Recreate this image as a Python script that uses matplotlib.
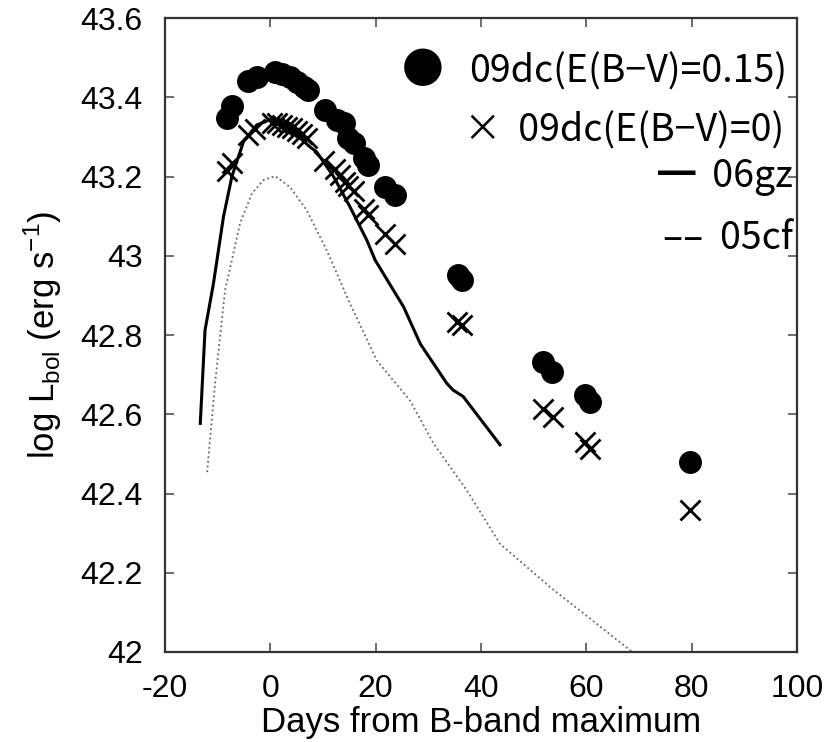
import matplotlib
matplotlib.use("Agg")
import matplotlib.pyplot as plt

# SN 2009dc with E(B-V)=0.15 (filled circles)
dc15_day = [-8.3, -7.3, -4.3, -2.6, 0.9, 2.2, 3.7, 5.0, 6.3, 7.2, 10.4, 12.6, 13.9,
            14.8, 15.8, 17.7, 18.6, 21.8, 23.7, 35.7, 36.4, 51.8, 53.4, 59.7, 60.7, 79.6]
dc15_L = [43.347, 43.378, 43.440, 43.452, 43.464, 43.460, 43.452, 43.439, 43.427, 43.418,
          43.368, 43.342, 43.334, 43.296, 43.284, 43.246, 43.229, 43.174, 43.153,
          42.951, 42.940, 42.732, 42.707, 42.648, 42.631, 42.480]

# SN 2009dc with E(B-V)=0 (crosses)
dc0_day = [-8.3, -7.3, -4.2, -3.0, 0.3, 1.2, 2.2, 3.1, 4.1, 5.0, 6.0, 6.9, 10.1, 12.3,
           13.2, 14.2, 14.8, 15.8, 17.7, 18.6, 21.8, 23.7, 35.4, 36.3, 51.8, 53.6,
           59.7, 60.7, 79.6]
dc0_L = [43.214, 43.235, 43.305, 43.320, 43.334, 43.334, 43.330, 43.326, 43.322, 43.316,
         43.308, 43.298, 43.240, 43.218, 43.204, 43.186, 43.176, 43.164, 43.118, 43.102,
         43.054, 43.030, 42.833, 42.825, 42.614, 42.592, 42.530, 42.513, 42.358]

# SN 2006gz (solid line)
gz_day = [-13.3, -12.4, -10.8, -8.9, -7.3, -5.1, -2.6, 0.3, 2.5, 5.0, 7.5, 8.8, 12.0,
          15.1, 18.3, 19.9, 25.3, 28.5, 33.5, 34.7, 36.6, 43.6]
gz_L = [42.577, 42.812, 42.930, 43.098, 43.200, 43.288, 43.330, 43.345, 43.335, 43.305,
        43.275, 43.262, 43.200, 43.124, 43.040, 42.989, 42.871, 42.777, 42.678, 42.661,
        42.645, 42.523]

# SN 2005cf (dotted line)
cf_day = [-12.0, -10.5, -9.55, -8.6, -7.3, -5.75, -3.5, -1.3, 0.9, 3.7, 6.9, 10.7,
          15.1, 20.2, 26.5, 31.0, 37.3, 43.6, 53.1, 63.5, 68.7]
cf_L = [42.454, 42.677, 42.795, 42.913, 42.989, 43.082, 43.157, 43.191, 43.201, 43.174,
        43.115, 43.014, 42.880, 42.736, 42.635, 42.526, 42.408, 42.273, 42.164, 42.055,
        42.000]

x_ticks = [-20, 0, 20, 40, 60, 80, 100]
y_ticks = [42, 42.2, 42.4, 42.6, 42.8, 43, 43.2, 43.4, 43.6]
y_labels = ["42", "42.2", "42.4", "42.6", "42.8", "43", "43.2", "43.4", "43.6"]

plt.rcParams["font.family"] = ["Liberation Sans", "DejaVu Sans"]
plt.rcParams["mathtext.fontset"] = "custom"
plt.rcParams["mathtext.rm"] = "Liberation Sans"
plt.rcParams["axes.unicode_minus"] = False

fig = plt.figure(figsize=(8.32, 7.42), dpi=100)
ax = fig.add_axes([0.1983, 0.1213, 0.7597, 0.8544])

ax.plot(cf_day, cf_L, color="#666666", lw=1.3, ls=(0, (1, 1.6)))
ax.plot(gz_day, gz_L, color="black", lw=2.2)
ax.plot(dc0_day, dc0_L, "x", color="black", ms=14, mew=2.0)
ax.plot(dc15_day, dc15_L, "o", color="black", ms=15.5)

ax.set_xlim(-20, 100)
ax.set_ylim(42, 43.6)
ax.set_xticks(x_ticks)
ax.set_yticks(y_ticks)
ax.set_yticklabels(y_labels)
ax.tick_params(direction="in", length=6.5, width=1.2, top=True, right=True,
               labelsize=23, pad=16, color="#555555")
for s in ax.spines.values():
    s.set_linewidth(1.6)
    s.set_color("#333333")

ax.set_xlabel("Days from B-band maximum", fontsize=25, labelpad=1)
ax.set_ylabel(r"log L$_\mathregular{bol}$ (erg s$^\mathregular{-1}$)", fontsize=25,
              labelpad=12)

# key, drawn as text in the Japanese gothic style of the original
jp = ["Noto Sans CJK JP", "DejaVu Sans"]
ax.text(0.408, 0.915, "●", transform=ax.transAxes, fontsize=30, family=jp,
        ha="center", va="center")
ax.text(0.984, 0.914, "09dc(E(B−V)=0.15)", transform=ax.transAxes, fontsize=27,
        family=jp, ha="right", va="center")
ax.text(0.979, 0.822, "×  09dc(E(B−V)=0)", transform=ax.transAxes, fontsize=27,
        family=jp, ha="right", va="center")
ax.text(0.994, 0.750, "━  06gz", transform=ax.transAxes, fontsize=27,
        family=jp, ha="right", va="center")
ax.text(0.994, 0.652, "––  05cf", transform=ax.transAxes, fontsize=27,
        family=jp, ha="right", va="center")

fig.savefig("out.png", dpi=100)
